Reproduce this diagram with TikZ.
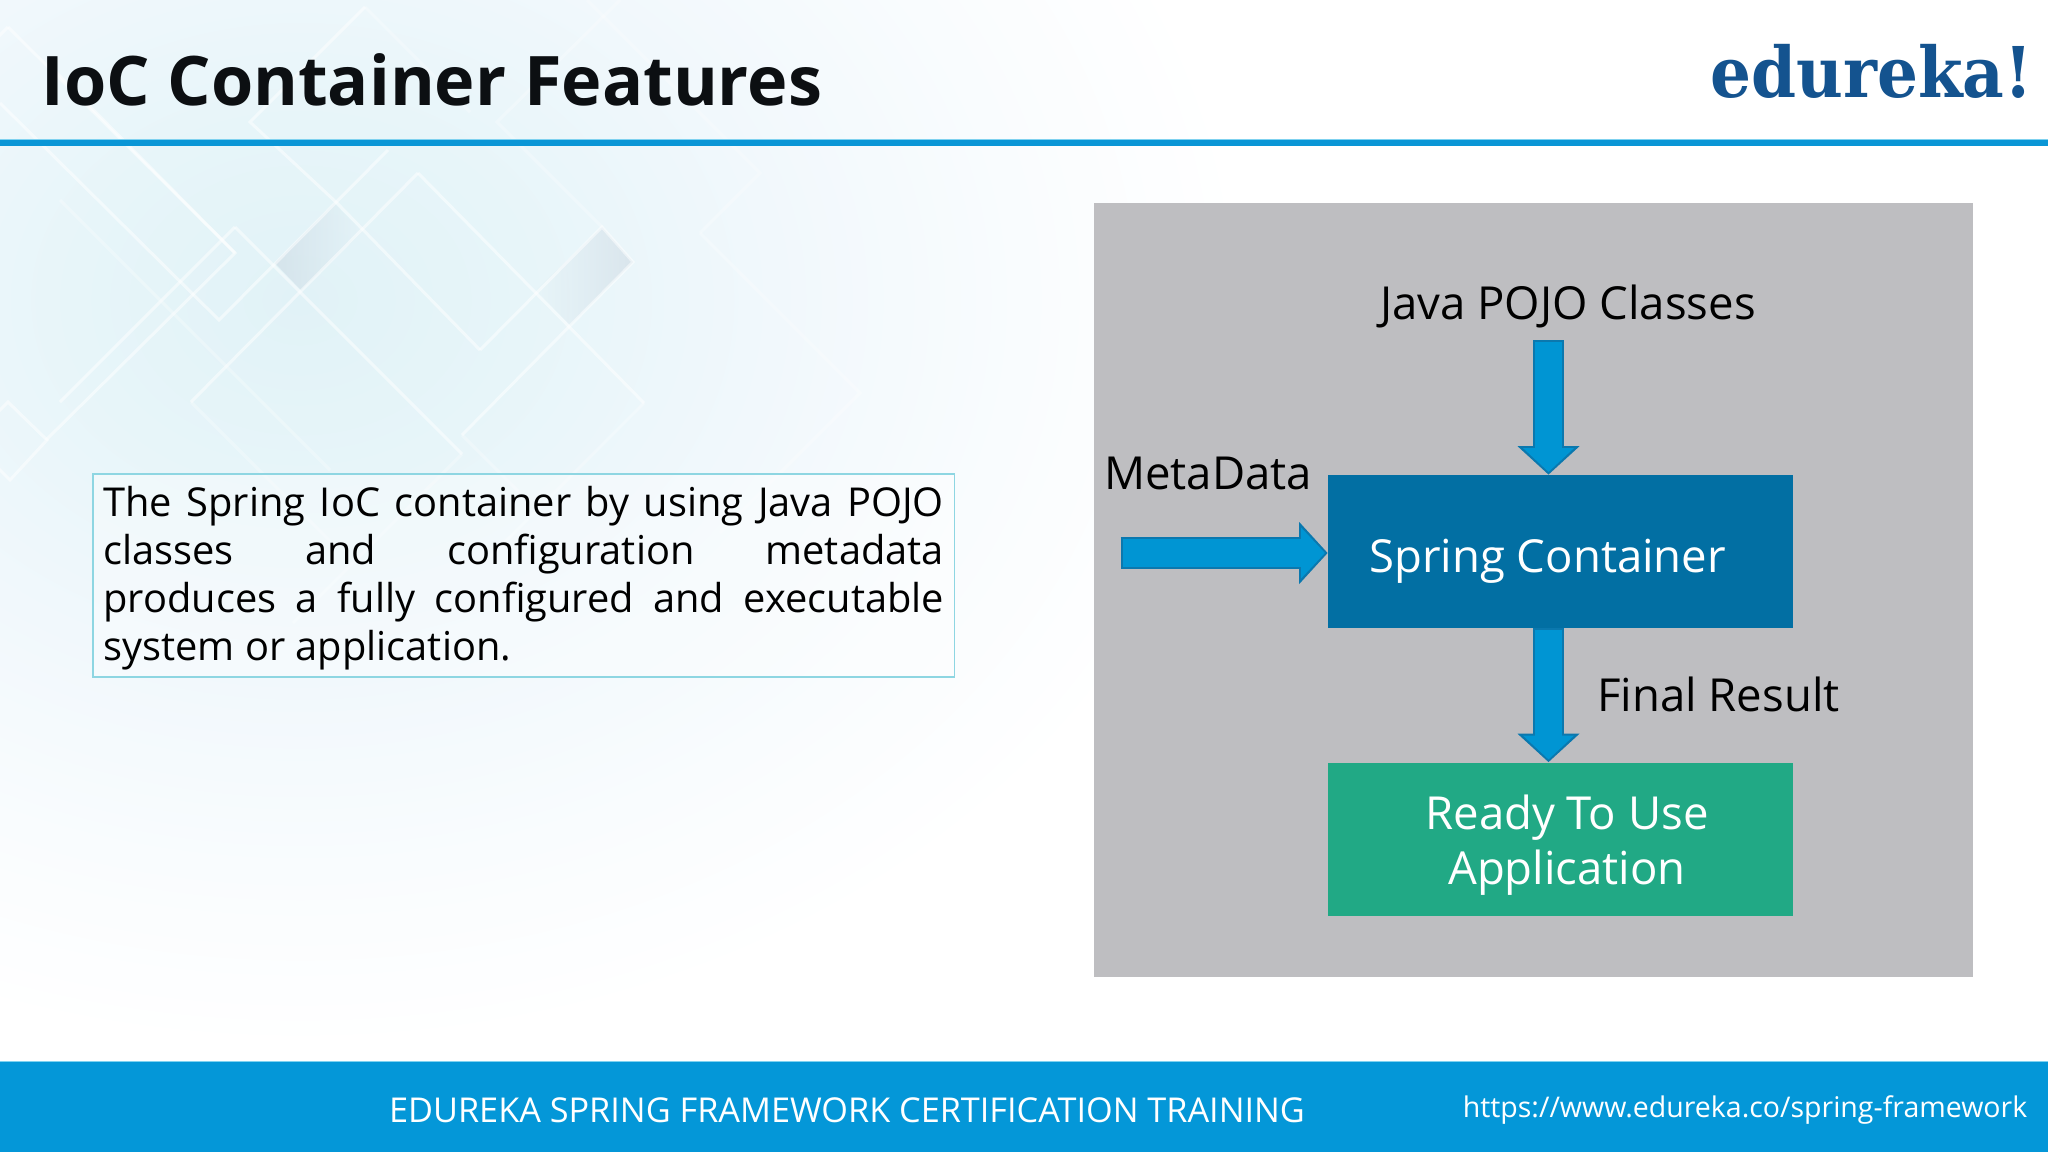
\documentclass[tikz,border=0pt]{standalone}
\usepackage{fontspec}
\setmainfont{Open Sans}
\newfontfamily\logofont{DejaVu Serif}
\usetikzlibrary{arrows.meta,fadings}
\definecolor{rulecol}{HTML}{0A96D6}
\definecolor{ruleedge}{HTML}{7FD2F0}
\definecolor{footcol}{HTML}{0497D8}
\definecolor{panelcol}{HTML}{BEBEC1}
\definecolor{springcol}{HTML}{026FA3}
\definecolor{readycol}{HTML}{21A985}
\definecolor{arrowfill}{HTML}{0095D3}
\definecolor{arrowedge}{HTML}{0B78AE}
\definecolor{logocol}{HTML}{14538F}
\definecolor{boxline}{HTML}{8ED6E2}
\definecolor{titlecol}{HTML}{0C0F12}
\definecolor{patch}{HTML}{CBD8E2}
\definecolor{glowa}{HTML}{E1F2F7}
\definecolor{glowb}{HTML}{E7F5F9}
\definecolor{glowc}{HTML}{F1F8FC}
\definecolor{glowd}{HTML}{F9FCFE}
\pgfdeclareradialshading{bgglow}{\pgfpointorigin}{
  color(0bp)=(glowa);
  color(6bp)=(glowb);
  color(12.5bp)=(glowc);
  color(19bp)=(glowd);
  color(25bp)=(white);
  color(50bp)=(white)}
\tikzset{
  sans/.style={font=\fontsize{#1}{#1}\selectfont},
  dline/.style={draw=white,line width=1.5pt,opacity=.5,line join=miter},
  fline/.style={dline,opacity=.28},
  flowbox/.style={minimum width=232.5pt,minimum height=76.5pt,inner sep=0pt,text=white,sans=22.75},
  flowlabel/.style={anchor=base,inner sep=0pt,text=black,sans=22.75},
  blockarrow/.style={
    preaction={draw=arrowedge,line width=15.6pt,shorten <=0pt,shorten >=0pt,
      -{Triangle[length=14.2pt,width=31pt,line width=0pt]}},
    draw=arrowfill,line width=13.6pt,shorten <=1pt,shorten >=1.35pt,
    -{Triangle[length=11.85pt,width=25.4pt,line width=0pt]}}
}
\begin{document}
\begin{tikzpicture}[x=0.5pt,y=-0.5pt]
\useasboundingbox (0,0) rectangle (2048,1152);
\fill[white] (0,0) rectangle (2048,1152);
\begin{scope}
\clip (0,0) rectangle (2048,1152);
\shade[shading=bgglow,shading angle=0] (-650,-450) rectangle (1250,1050);
\fill[patch,opacity=.55,path fading=east] (334,203) -- (362,232) -- (301,290) -- (275,263) -- cycle;
\fill[patch,opacity=.55,path fading=west] (602,227) -- (633,262) -- (570,325) -- (536,290) -- cycle;
\draw[dline] (51,67) -- (235,253) -- (46,440);
\draw[dline] (0,103) -- (219,320) -- (388,150);
\draw[dline] (8,27) -- (-30,65);
\draw[dline] (8,27) -- (235,253);
\draw[dline] (8,402) -- (47,440) -- (10,480) -- (-30,440) -- cycle;
\draw[dline] (235,227) -- (462,454);
\draw[fline] (462,454) -- (293,623);
\draw[dline] (235,227) -- (60,402);
\draw[dline] (418,173) -- (191,402);
\draw[fline] (191,402) -- (330,541);
\draw[dline] (418,173) -- (644,403);
\draw[fline] (644,403) -- (490,557);
\draw[dline] (480,350) -- (337,203) -- (250,122) -- (365,7);
\draw[dline] (480,350) -- (602,227) -- (633,262) -- (462,435);
\draw[fline] (462,435) -- (520,493);
\draw[fline] (602,227) -- (497,122) -- (620,0);
\draw[fline] (365,7) -- (470,112);
\draw[fline] (587,0) -- (760,173) -- (700,233);
\draw[fline] (60,200) -- (330,470);
\draw[fline] (700,233) -- (860,393) -- (720,533);
\end{scope}
% header
\node[anchor=base west,inner sep=0pt,text=titlecol,font=\fontsize{34.17}{40}\selectfont\bfseries] (title) at (41,105) {IoC Container Features};
\node[anchor=base west,inner sep=0pt,text=logocol,font=\fontsize{35}{40}\logofont\bfseries] (logo) at (1710,97) {\scalebox{0.92}[1]{edureka!}};
\fill[ruleedge] (0,139) rectangle (2048,140);
\fill[rulecol] (0,140) rectangle (2048,146);
% text box
\node[draw=boxline,line width=.6pt,fill=white,fill opacity=.35,text opacity=1,minimum height=101.5pt,
  text width=420.2pt,inner xsep=5.25pt,inner ysep=0pt,align=justify,text=black,
  font=\fontsize{19.9}{23.95}\selectfont] (para) at (523.7,575.5)
  {\rule{0pt}{17.9pt}The Spring IoC container by using Java POJO\linebreak classes and configuration metadata\linebreak produces a fully configured and executable\linebreak system or application.};
% panel
\fill[panelcol] (1094,203) rectangle (1973,977);
\node[flowlabel] (pojo) at (1568,319) {Java POJO Classes};
\node[flowlabel] (meta) at (1208,489.5) {MetaData};
\node[flowlabel] (final) at (1718.5,711.5) {Final Result};
\node[flowbox,fill=springcol,text height=21pt,text depth=0pt] (spring) at (1560.5,551.5) {Spring Container\kern12.9pt};
\node[flowbox,fill=readycol,align=center] (ready) at (1560.5,839) {\rule{0pt}{23pt}\hspace*{6.5pt}Ready To Use\\[4.7pt]\hspace*{6.5pt}Application};
\coordinate (topstart) at (1548.5,340);
\coordinate (leftstart) at (1120.5,553);
\coordinate (axis) at (1548.5,0);
\draw[blockarrow] (topstart) -- (topstart |- spring.north);
\draw[blockarrow] (leftstart) -- (leftstart -| spring.west);
\draw[blockarrow] (axis |- spring.south) -- (axis |- ready.north);
% footer
\fill[ruleedge] (0,1061) rectangle (2048,1062);
\fill[footcol] (0,1062) rectangle (2048,1152);
\node[anchor=base,inner sep=0pt,text=white,font=\fontsize{17.12}{20}\selectfont] (foot) at (847,1122) {EDUREKA SPRING FRAMEWORK CERTIFICATION TRAINING};
\node[anchor=base,inner sep=0pt,text=white,font=\fontsize{14.25}{20}\selectfont] (url) at (1745,1117) {https://www.edureka.co/spring-framework};
\end{tikzpicture}
\end{document}
